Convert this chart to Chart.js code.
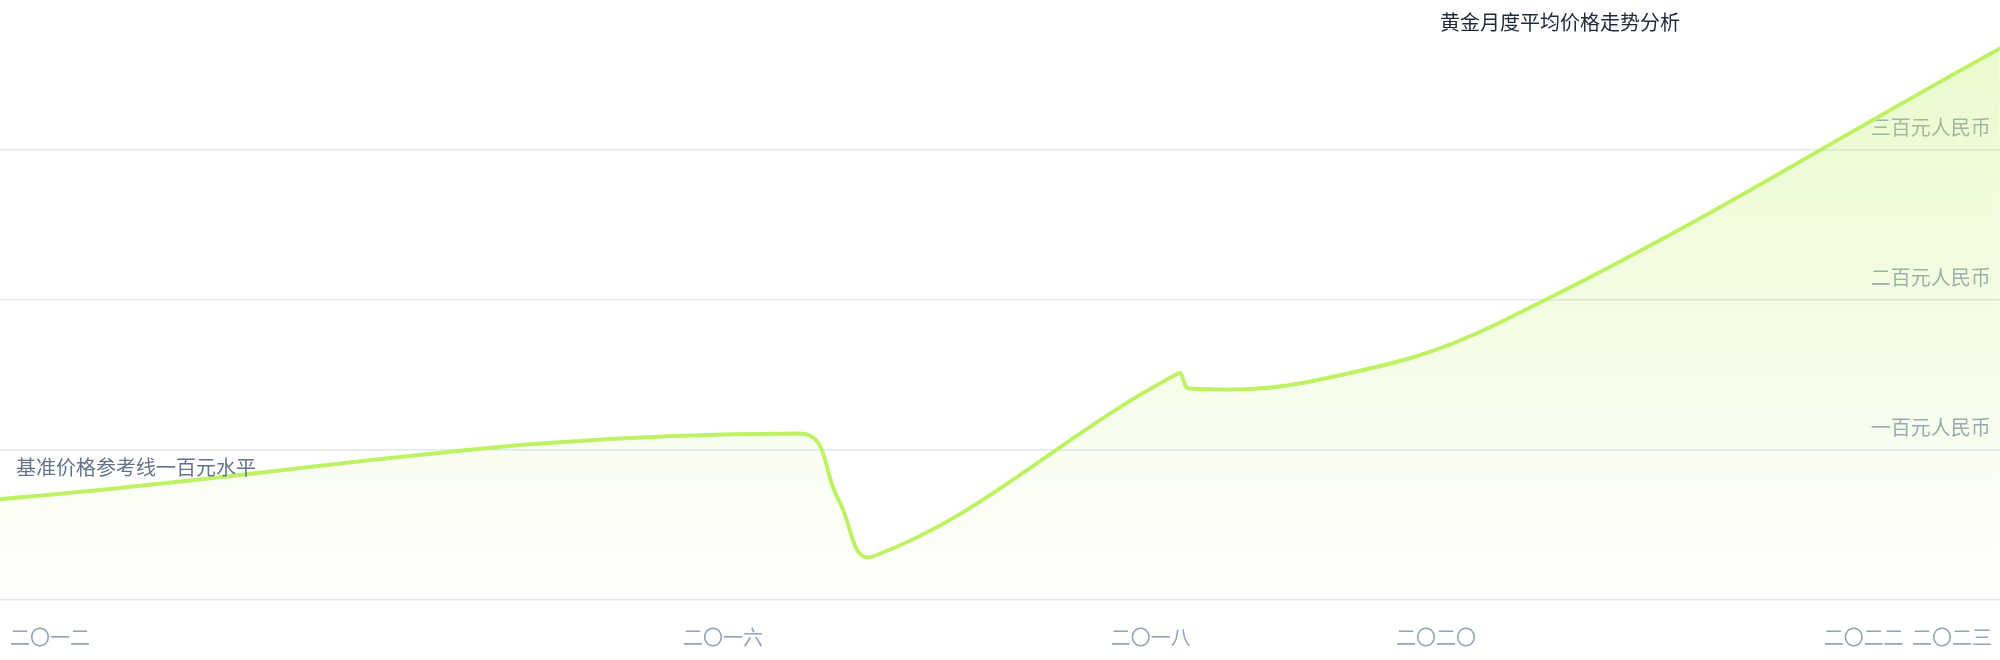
<!DOCTYPE html>
<html>
<head>
<meta charset="utf-8">
<title>黄金月度平均价格走势分析</title>
<script src="https://cdn.jsdelivr.net/npm/chart.js@4.4.1/dist/chart.umd.min.js"></script>
<style>
  html, body { margin: 0; padding: 0; background: #ffffff; }
  #chartBox { position: relative; width: 2000px; height: 660px; }
</style>
</head>
<body>
<div id="chartBox"><canvas id="priceChart"></canvas></div>
<script>
// Values (x = months from start, y = yuan)
const pointMonths = [-1, 55.4, 58.1, 60.5, 81.9, 82.7, 91.9, 104.5, 140];
const pointValues = [67, 111, 67, 29, 151, 141, 147, 185, 370];

// Axis ticks
const xTickMonths = [0, 50, 80, 100, 130, 139];
const xTickLabels = ['二〇一二', '二〇一六', '二〇一八', '二〇二〇', '二〇二二', '二〇二三'];
const yTickValues = [100, 200, 300];
const yTickLabels = ['一百元人民币', '二百元人民币', '三百元人民币'];

// Texts
const chartTitle = '黄金月度平均价格走势分析';
const baseLineValue = 100;
const baseLineLabel = '基准价格参考线一百元水平';

const FONT_FAMILY = "'Noto Sans CJK SC', sans-serif";
const FONT_SIZE = 20;
const LINE_COLOR = '#bef264';
const GRID_COLOR = '#e2e8f0';

// Fill gradient, top of the chart area to the bottom
function fillGradient(context) {
    const chart = context.chart;
    const area = chart.chartArea;
    if (!area) return 'rgba(190, 242, 100, 0.2)';
    const g = chart.ctx.createLinearGradient(0, area.top, 0, area.bottom);
    g.addColorStop(0, 'rgba(190, 242, 100, 0.34)');
    g.addColorStop(1, 'rgba(190, 242, 100, 0.02)');
    return g;
}

// Y labels sit under the fill, the other texts on top of it
const textPlugin = {
    id: 'chartTexts',
    beforeDatasetsDraw(chart) {
        const { ctx, chartArea, scales } = chart;
        ctx.save();
        ctx.font = FONT_SIZE + 'px ' + FONT_FAMILY;
        ctx.fillStyle = '#94a3b8';
        ctx.textAlign = 'right';
        ctx.textBaseline = 'middle';
        yTickValues.forEach((v, i) => {
            ctx.fillText(yTickLabels[i], chartArea.right - 9, scales.y.getPixelForValue(v) - 23);
        });
        ctx.restore();
    },
    afterDatasetsDraw(chart) {
        const { ctx, chartArea, scales } = chart;
        ctx.save();
        ctx.font = FONT_SIZE + 'px ' + FONT_FAMILY;
        ctx.textBaseline = 'middle';

        ctx.fillStyle = '#64748b';
        ctx.textAlign = 'left';
        ctx.fillText(baseLineLabel, chartArea.left + 16, scales.y.getPixelForValue(baseLineValue) + 17);

        ctx.fillStyle = '#1e293b';
        ctx.textAlign = 'center';
        ctx.fillText(chartTitle, chartArea.left + chartArea.width * 0.78, chartArea.top + 22);
        ctx.restore();
    }
};

function drawPriceChart() {
    const ctx = document.getElementById('priceChart').getContext('2d');

    new Chart(ctx, {
        type: 'line',
        data: {
            datasets: [{
                data: pointMonths.map((m, i) => ({ x: m, y: pointValues[i] })),
                borderColor: LINE_COLOR,
                borderWidth: 4,
                backgroundColor: fillGradient,
                fill: 'origin',
                tension: 0.4,
                pointRadius: 0
            }]
        },
        options: {
            responsive: true,
            maintainAspectRatio: false,
            animation: false,
            layout: { padding: 0 },
            plugins: {
                legend: { display: false },
                tooltip: { enabled: false },
                title: { display: false }
            },
            scales: {
                x: {
                    type: 'linear',
                    min: -0.7,
                    max: 139.55,
                    afterBuildTicks: (scale) => {
                        scale.ticks = xTickMonths.map(v => ({ value: v }));
                    },
                    afterFit: (scale) => {
                        scale.height = 60;
                    },
                    grid: { display: false },
                    border: { display: false },
                    ticks: {
                        autoSkip: false,
                        maxRotation: 0,
                        align: 'inner',
                        padding: 8,
                        color: '#94a3b8',
                        font: { family: FONT_FAMILY, size: FONT_SIZE, lineHeight: 2.15 },
                        callback: (value, index) => xTickLabels[index]
                    }
                },
                y: {
                    position: 'right',
                    min: 0,
                    max: 400,
                    ticks: { display: false, stepSize: 100 },
                    grid: {
                        drawTicks: false,
                        lineWidth: 1.5,
                        color: (c) => (c.tick && c.tick.value === 400) ? 'rgba(0,0,0,0)' : GRID_COLOR
                    },
                    border: { display: false }
                }
            }
        },
        plugins: [textPlugin]
    });
}

drawPriceChart();
</script>
</body>
</html>
